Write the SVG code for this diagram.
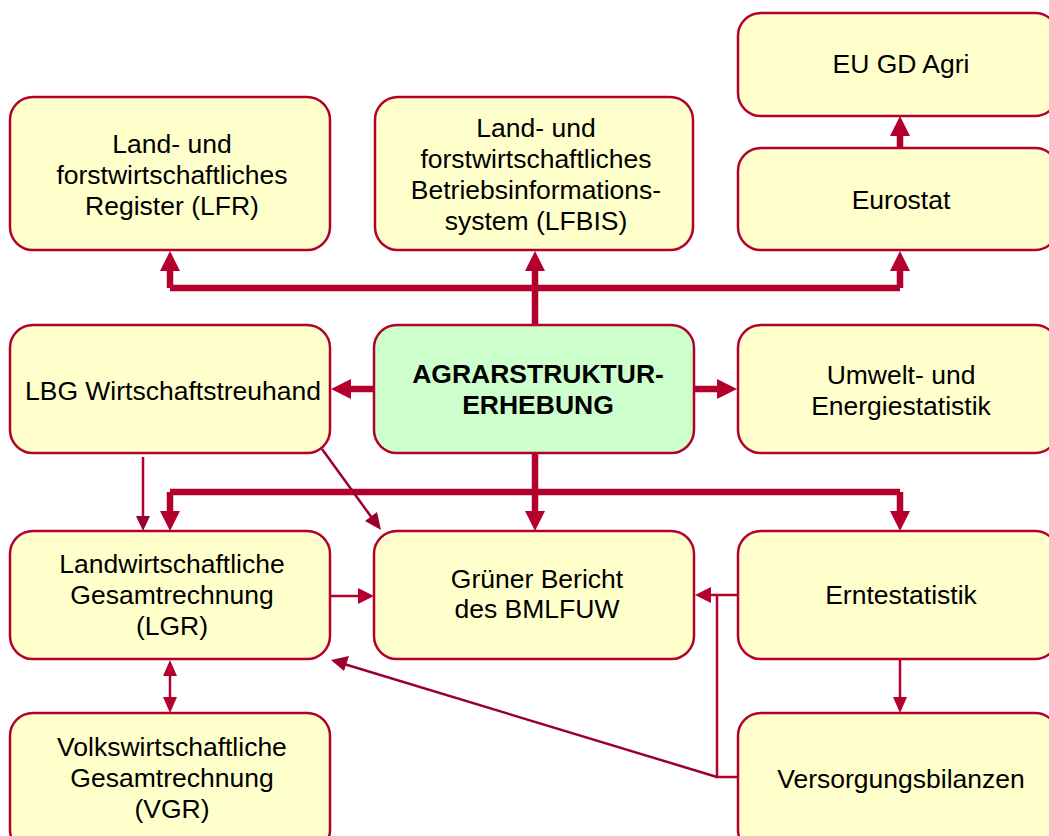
<svg xmlns="http://www.w3.org/2000/svg" width="1049" height="836" viewBox="0 0 1049 836">
<defs>
<style>
.box{fill:#FFFFCC;stroke:#B3002D;stroke-width:2.5}
.main{fill:#CCFFCC;stroke:#B3002D;stroke-width:2.5}
.t{font-family:"Liberation Sans",Arial,sans-serif;font-size:26.5px;fill:#000;text-anchor:middle}
.b{font-weight:bold}
.thick{stroke:#B3002D;stroke-width:6.5;fill:none}
.thin{stroke:#B3002D;stroke-width:2.5;fill:none}
.diag{stroke:#99002E;stroke-width:2.5;fill:none}
.ah{fill:#B3002D}
.ahd{fill:#99002E}
</style>
</defs>
<rect width="1049" height="836" fill="#fff"/>
<g id="connectors">
<path class="thick" d="M170 288 H900 M535 325 V268 M170 288 V268 M900 288 V268 M900 148 V134"/>
<polygon class="ah" points="170,251 160,271 180,271"/>
<polygon class="ah" points="535,251 525,271 545,271"/>
<polygon class="ah" points="900,251 890,271 910,271"/>
<polygon class="ah" points="900,116 890,136 910,136"/>
<path class="thick" d="M374 389 H348 M694 389 H720"/>
<polygon class="ah" points="331,389 351,379 351,399"/>
<polygon class="ah" points="737,389 717,379 717,399"/>
<path class="thick" d="M535 453 V512 M170 492 H900 M170 492 V512 M900 492 V512"/>
<polygon class="ah" points="535,531 525,511 545,511"/>
<polygon class="ah" points="170,531 160,511 180,511"/>
<polygon class="ah" points="900,531 890,511 910,511"/>
<path class="thin" d="M143 457 V518"/>
<polygon class="ahd" points="143,531 136,516 150,516"/>
<path class="diag" d="M322 449 L372 518"/>
<polygon class="ahd" points="381,530 365,521 377,512"/>
<path class="thin" d="M330 596 H360"/>
<polygon class="ah" points="374,596 358,588 358,604"/>
<path class="thin" d="M738 595 H709 M717 595 V777 H738"/>
<polygon class="ah" points="695,595 711,587 711,603"/>
<path class="diag" d="M717 777 L344 664"/>
<polygon class="ahd" points="331,660 349,656 344,671"/>
<path class="thin" d="M900 659 V699"/>
<polygon class="ah" points="900,713 893,697 907,697"/>
<path class="thin" d="M170 674 V698"/>
<polygon class="ah" points="170,660 163,676 177,676"/>
<polygon class="ah" points="170,713 163,697 177,697"/>
</g>
<g id="lfr"><rect class="box" x="10" y="97" width="320" height="153" rx="23"/>
<text class="t" x="172" y="153">Land- und</text><text class="t" x="172" y="184">forstwirtschaftliches</text><text class="t" x="172" y="215">Register (LFR)</text></g>
<g id="lfbis"><rect class="box" x="375" y="97" width="318" height="153" rx="23"/>
<text class="t" x="536" y="137">Land- und</text><text class="t" x="536" y="168">forstwirtschaftliches</text><text class="t" x="536" y="199">Betriebsinformations-</text><text class="t" x="536" y="230">system (LFBIS)</text></g>
<g id="eugd"><rect class="box" x="738" y="13" width="320" height="103" rx="23"/>
<text class="t" x="901" y="73">EU GD Agri</text></g>
<g id="eurostat"><rect class="box" x="738" y="148" width="320" height="102" rx="23"/>
<text class="t" x="901" y="209">Eurostat</text></g>
<g id="lbg"><rect class="box" x="10" y="325" width="320" height="128" rx="23"/>
<text class="t" x="173" y="400">LBG Wirtschaftstreuhand</text></g>
<g id="ase"><rect class="main" x="374" y="325" width="320" height="128" rx="23"/>
<text class="t b" x="538" y="383">AGRARSTRUKTUR-</text><text class="t b" x="538" y="414">ERHEBUNG</text></g>
<g id="umwelt"><rect class="box" x="738" y="325" width="320" height="128" rx="23"/>
<text class="t" x="901" y="384">Umwelt- und</text><text class="t" x="901" y="415">Energiestatistik</text></g>
<g id="lgr"><rect class="box" x="10" y="531" width="320" height="128" rx="23"/>
<text class="t" x="172" y="573">Landwirtschaftliche</text><text class="t" x="172" y="604">Gesamtrechnung</text><text class="t" x="172" y="635">(LGR)</text></g>
<g id="gruener"><rect class="box" x="374" y="531" width="320" height="128" rx="23"/>
<text class="t" x="537" y="588">Grüner Bericht</text><text class="t" x="537" y="618">des BMLFUW</text></g>
<g id="ernte"><rect class="box" x="738" y="531" width="320" height="128" rx="23"/>
<text class="t" x="901" y="604">Erntestatistik</text></g>
<g id="vgr"><rect class="box" x="10" y="713" width="320" height="140" rx="23"/>
<text class="t" x="172" y="756">Volkswirtschaftliche</text><text class="t" x="172" y="787">Gesamtrechnung</text><text class="t" x="172" y="818">(VGR)</text></g>
<g id="versorgung"><rect class="box" x="738" y="713" width="320" height="140" rx="23"/>
<text class="t" x="901" y="788">Versorgungsbilanzen</text></g>
</svg>
